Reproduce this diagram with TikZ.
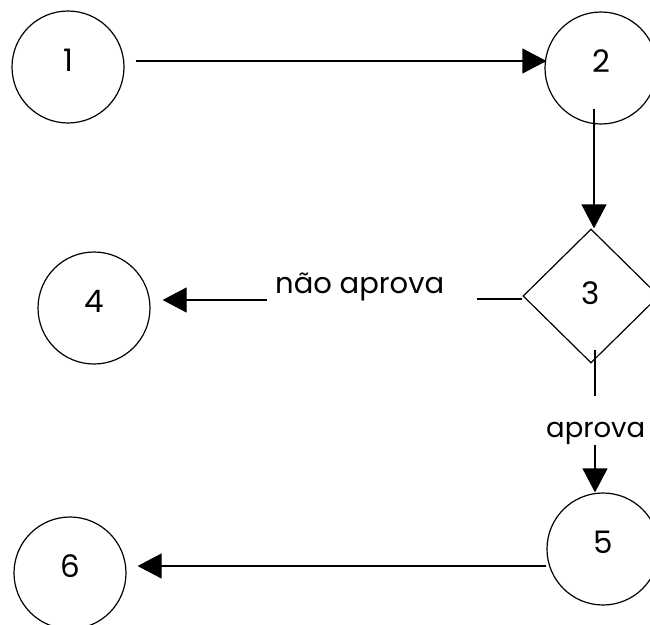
\documentclass[tikz,border=0pt]{standalone}
\usepackage{fontspec}
\setsansfont{Poppins}
\usetikzlibrary{arrows.meta,shapes.geometric}
\begin{document}
\begin{tikzpicture}[x=1pt,y=-1pt,
  every node/.style={font=\sffamily},
  stateball/.style={draw,circle,line width=1.2pt,minimum size=112pt,inner sep=0pt,
    text depth=14pt,font=\sffamily\fontsize{31}{36}\selectfont},
  decisionbox/.style={draw,diamond,line width=1.2pt,minimum width=136pt,minimum height=134pt,
    inner sep=0pt,text depth=6pt,font=\sffamily\fontsize{31}{36}\selectfont},
  conn/.style={line width=1.2pt},
  arr/.style={conn,-{Triangle[length=24pt,width=25pt]}},
  lbl/.style={inner sep=0pt,anchor=base west,font=\sffamily\fontsize{29}{34}\selectfont}
]
\useasboundingbox (0,0) rectangle (650,624);
\node[stateball] (n1) at (68,67) {1};
\node[stateball] (n2) at (601,68) {2};
\node[decisionbox] (n3) at (591,296) {3};
\node[stateball] (n4) at (94,308) {4};
\node[stateball] (n5) at (603,549) {5};
\node[stateball] (n6) at (70,573) {6};
\coordinate (c34a) at (477,299);
\coordinate (c34b) at (267,300);
\coordinate (c35a) at (595,396);
\coordinate (c35b) at (595,445);
\draw[arr] ([xshift=11pt,yshift=6pt]n1.east) -- ([xshift=2pt,yshift=7pt]n2.west);
\draw[arr] ([xshift=-7pt,yshift=16pt]n2.south) -- ([xshift=3pt]n3.north);
\draw[conn] ([yshift=-3pt]n3.west) -- (c34a);
\draw[arr] (c34b) -- ([xshift=12pt,yshift=8pt]n4.east);
\node[lbl] (l34) at (275,293) {não aprova};
\draw[conn] ([xshift=4pt,yshift=14pt]n3.south) -- (c35a);
\node[lbl,font=\sffamily\fontsize{27.5}{32}\selectfont] (l35) at (546,437) {aprova};
\draw[arr] (c35b) -- ([xshift=-8pt]n5.north);
\draw[arr] ([yshift=-17pt]n5.west) -- ([xshift=11pt,yshift=7pt]n6.east);
\end{tikzpicture}
\end{document}
